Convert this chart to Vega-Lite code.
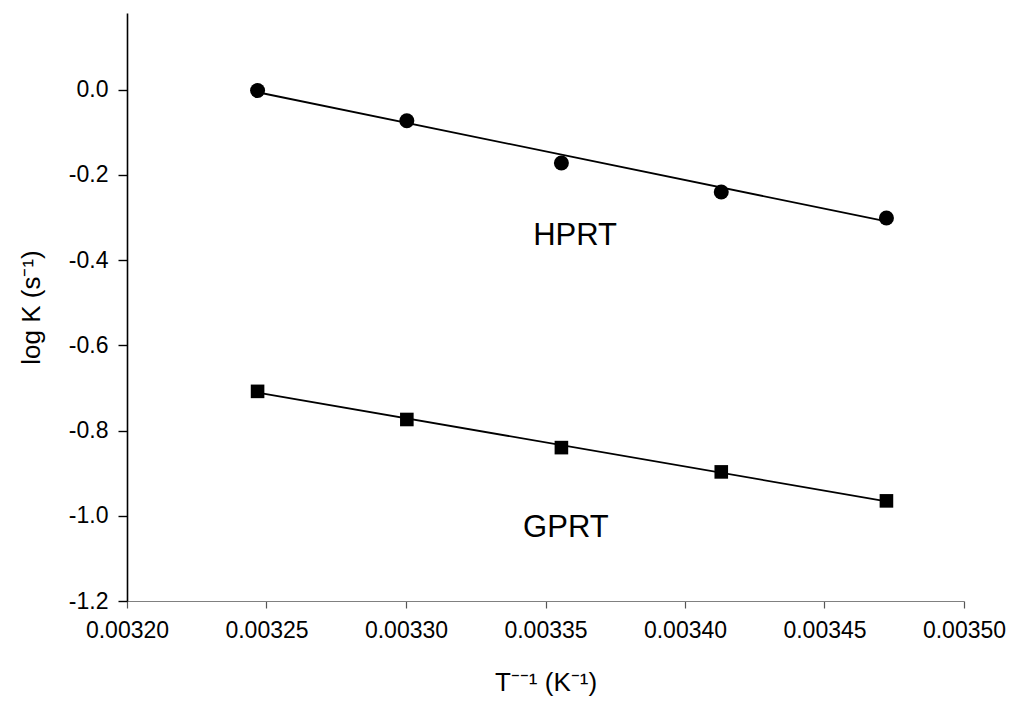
{
  "$schema": "https://vega.github.io/schema/vega-lite/v6.json",
  "autosize": {"type": "none"},
  "width": 837,
  "height": 588,
  "padding": {"left": 127, "top": 13, "right": 48, "bottom": 104},
  "background": "white",
  "config": {
    "view": {"stroke": null},
    "font": "Liberation Sans",
    "axis": {"labelFont": "Liberation Sans", "titleFont": "Liberation Sans", "labelColor": "black", "titleColor": "black", "grid": false}
  },
  "datasets": {
    "points": [
      {"invT": 0.0032468, "logK": -0.002, "enzyme": "HPRT"},
      {"invT": 0.0033003, "logK": -0.073, "enzyme": "HPRT"},
      {"invT": 0.0033557, "logK": -0.172, "enzyme": "HPRT"},
      {"invT": 0.0034130, "logK": -0.240, "enzyme": "HPRT"},
      {"invT": 0.0034722, "logK": -0.301, "enzyme": "HPRT"},
      {"invT": 0.0032468, "logK": -0.708, "enzyme": "GPRT"},
      {"invT": 0.0033003, "logK": -0.774, "enzyme": "GPRT"},
      {"invT": 0.0033557, "logK": -0.840, "enzyme": "GPRT"},
      {"invT": 0.0034130, "logK": -0.897, "enzyme": "GPRT"},
      {"invT": 0.0034722, "logK": -0.965, "enzyme": "GPRT"}
    ],
    "fits": [
      {"invT": 0.0032468, "logK": -0.006, "enzyme": "HPRT"},
      {"invT": 0.0034722, "logK": -0.309, "enzyme": "HPRT"},
      {"invT": 0.0032468, "logK": -0.711, "enzyme": "GPRT"},
      {"invT": 0.0034722, "logK": -0.966, "enzyme": "GPRT"}
    ],
    "labels": [
      {"invT": 0.0033606, "logK": -0.3435, "text": "HPRT"},
      {"invT": 0.0033573, "logK": -1.029, "text": "GPRT"}
    ]
  },
  "layer": [
    {
      "data": {"name": "fits"},
      "mark": {"type": "line", "color": "black", "strokeWidth": 1.8},
      "encoding": {
        "x": {
          "field": "invT", "type": "quantitative",
          "scale": {"domain": [0.0032, 0.0035], "nice": false, "zero": false},
          "axis": {
            "title": "T⁻⁻¹ (K⁻¹)",
            "values": [0.0032, 0.00325, 0.0033, 0.00335, 0.0034, 0.00345, 0.0035],
            "format": ".5f",
            "labelFlush": false,
            "labelFontSize": 23,
            "titleFontSize": 26,
            "titleFontWeight": "normal",
            "domainColor": "#808080",
            "domainWidth": 1.2,
            "tickColor": "#555555",
            "tickSize": 7,
            "tickWidth": 1.2,
            "labelPadding": 11,
            "titlePadding": 27
          }
        },
        "y": {
          "field": "logK", "type": "quantitative",
          "scale": {"domain": [-1.2, 0.18], "nice": false, "zero": false},
          "axis": {
            "title": "log K (s⁻¹)",
            "values": [-1.2, -1.0, -0.8, -0.6, -0.4, -0.2, 0.0],
            "format": ".1f",
            "labelExpr": "replace(datum.label, '\u2212', '-')",
            "labelFontSize": 23,
            "titleFontSize": 26,
            "titleFontWeight": "normal",
            "domainColor": "black",
            "domainWidth": 1.6,
            "tickColor": "black",
            "tickSize": 9,
            "tickWidth": 1.4,
            "labelPadding": 10,
            "titlePadding": 24
          }
        },
        "detail": {"field": "enzyme"}
      }
    },
    {
      "data": {"name": "points"},
      "mark": {"type": "point", "filled": true, "opacity": 1},
      "encoding": {
        "x": {"field": "invT", "type": "quantitative"},
        "y": {"field": "logK", "type": "quantitative"},
        "shape": {"field": "enzyme", "type": "nominal", "scale": {"domain": ["HPRT", "GPRT"], "range": ["circle", "square"]}, "legend": null},
        "size": {"field": "enzyme", "type": "nominal", "scale": {"domain": ["HPRT", "GPRT"], "range": [225, 185]}, "legend": null},
        "color": {"value": "black"}
      }
    },
    {
      "data": {"name": "labels"},
      "mark": {"type": "text", "fontSize": 31, "color": "black", "align": "center", "baseline": "middle", "font": "Liberation Sans"},
      "encoding": {
        "x": {"field": "invT", "type": "quantitative"},
        "y": {"field": "logK", "type": "quantitative"},
        "text": {"field": "text"}
      }
    }
  ]
}
